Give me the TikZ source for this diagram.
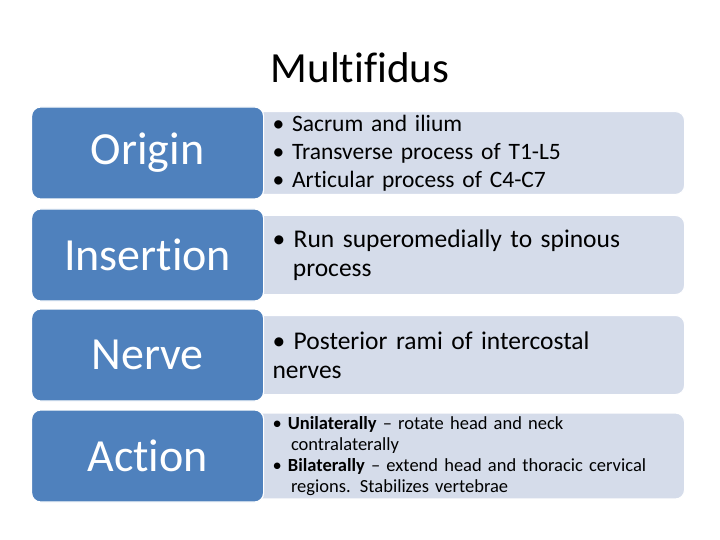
\documentclass[tikz,border=0pt]{standalone}
\usepackage{fontspec}
\setmainfont{Carlito}[Ligatures=NoCommon]
\usetikzlibrary{positioning}
\definecolor{headblue}{HTML}{4F81BD}
\definecolor{bodyblue}{HTML}{D0D8E8}
\tikzset{
  headbox/.style={draw=white, line width=1.2pt, fill=headblue, rounded corners=9pt, minimum width=232pt, minimum height=92pt, text=white, font=\fontsize{46}{50}\selectfont, anchor=west},
  bodybox/.style={draw=white, line width=1pt, fill=bodyblue, fill opacity=0.9, text opacity=1, rounded corners=9pt, minimum width=430pt, minimum height=79pt, anchor=west, align=left, text width=390pt, inner xsep=22pt}
}
\begin{document}
\begin{tikzpicture}[x=1pt, y=-1pt]
  \useasboundingbox (0,0) rectangle (720,540);
  \node (title) at (360,68) {\fontsize{43}{46}\selectfont Multifidus};
  % content boxes first, heads on top
  \node[bodybox, font=\fontsize{23.5}{28}\selectfont] (b1) at (250,153) {\textbullet\ Sacrum and ilium\\ \textbullet\ Transverse process of T1-L5\\ \textbullet\ Articular process of C4-C7};
  \node[bodybox, font=\fontsize{25.5}{29}\selectfont] (b2) at (250,255) {\textbullet\ Run superomedially to spinous\\ \hspace*{0.8em}process};
  \node[bodybox, font=\fontsize{25.5}{29}\selectfont] (b3) at (250,355) {\textbullet\ Posterior rami of intercostal nerves};
  \node[bodybox, font=\fontsize{18.5}{21}\selectfont] (b4) at (250,456) {\textbullet\ \textbf{Unilaterally} -- rotate head and neck\\ \hspace*{1em}contralaterally\\ \textbullet\ \textbf{Bilaterally} -- extend head and thoracic cervical\\ \hspace*{1em}regions. Stabilizes vertebrae};
  \node[headbox] (h1) at (31,153) {Origin};
  \node[headbox] (h2) at (31,255) {Insertion};
  \node[headbox] (h3) at (31,355) {Nerve};
  \node[headbox] (h4) at (31,456) {Action};
\end{tikzpicture}
\end{document}
